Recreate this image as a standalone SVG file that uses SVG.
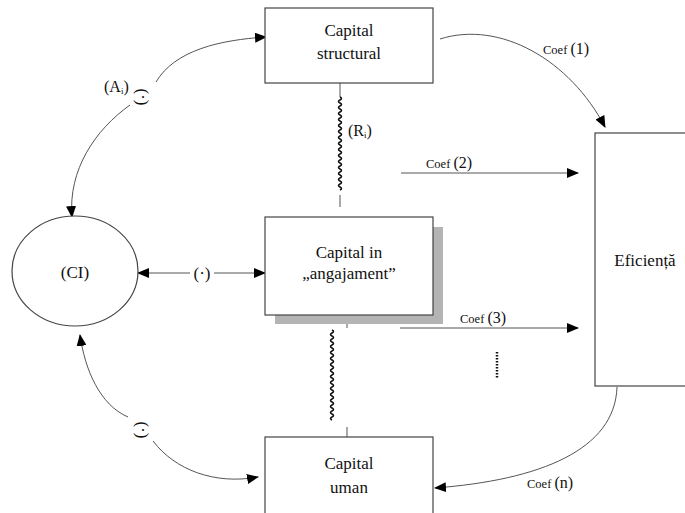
<svg xmlns="http://www.w3.org/2000/svg" width="685" height="513" viewBox="0 0 685 513">
<style>
.box{fill:#fff;stroke:#444;stroke-width:1.2}
.t{font-family:"Liberation Serif","Times New Roman",serif;font-size:17px;fill:#111;text-anchor:middle}
.s{font-family:"Liberation Serif","Times New Roman",serif;font-size:12.5px;fill:#111}
.big{font-size:16px}
.ln{fill:none;stroke:#555;stroke-width:1}
.wv{fill:none;stroke:#111;stroke-width:1.5}
</style>
<defs>
<marker id="ah" viewBox="0 0 12 10" refX="11" refY="5" markerWidth="12" markerHeight="10" markerUnits="userSpaceOnUse" orient="auto-start-reverse">
<path d="M0,0 L12,5 L0,10 Z" fill="#000"/>
</marker>
</defs>
<rect width="685" height="513" fill="#fff"/>

<g id="connectors">
<path class="ln" d="M156,82 C175,50 220,40 266,37" marker-end="url(#ah)"/>
<path class="ln" d="M130,105 C95,130 68,170 72,217" marker-end="url(#ah)"/>
<path class="ln" d="M128,417 C100,405 85,370 80,335" marker-end="url(#ah)"/>
<path class="ln" d="M153,441 C175,470 215,485 258,477" marker-end="url(#ah)"/>
<path class="ln" d="M138,273 L190,273" marker-start="url(#ah)"/>
<path class="ln" d="M214,273 L265,273" marker-end="url(#ah)"/>
<path class="ln" d="M440,39 C500,20 570,60 605,127" marker-end="url(#ah)"/>
<path class="ln" d="M401,173 L578,173" marker-end="url(#ah)"/>
<path class="ln" d="M400,328 L578,328" marker-end="url(#ah)"/>
<path class="ln" d="M617,387 C615,450 540,480 435,488" marker-end="url(#ah)"/>
<line x1="497" y1="352" x2="497" y2="378" stroke="#111" stroke-width="2.5" stroke-dasharray="1.5,1.5"/>
<line class="ln" x1="340" y1="83" x2="340" y2="97"/>
<path class="wv" d="M340,97 q3,1.5 0,3 t0,3 t0,3 t0,3 t0,3 t0,3 t0,3 t0,3 t0,3 t0,3 t0,3 t0,3 t0,3 t0,3 t0,3 t0,3 t0,3 t0,3 t0,3 t0,3 t0,3 t0,3 t0,3 t0,3 t0,3 t0,3 t0,3 t0,3 t0,3 t0,3 t0,3"/>
<line class="ln" x1="340" y1="195" x2="340" y2="207" stroke="#111"/>
<line class="ln" x1="347" y1="315" x2="347" y2="328"/>
<path class="wv" d="M332,330 q3,1.5 0,3 t0,3 t0,3 t0,3 t0,3 t0,3 t0,3 t0,3 t0,3 t0,3 t0,3 t0,3 t0,3 t0,3 t0,3 t0,3 t0,3 t0,3 t0,3 t0,3 t0,3 t0,3 t0,3 t0,3 t0,3 t0,3 t0,3 t0,3 t0,3 t0,3"/>
<line class="ln" x1="347" y1="427" x2="347" y2="437"/>
</g>

<g id="labels">
<text class="s" x="104" y="92"><tspan class="big">(A</tspan><tspan font-size="9" dy="2">i</tspan><tspan class="big" dy="-2">)</tspan></text>
<text class="t" x="0" y="0" transform="translate(142,97) rotate(90)" dy="5">(·)</text>
<text class="t" x="0" y="0" transform="translate(142,430) rotate(90)" dy="5">(·)</text>
<text class="t" x="202" y="279">(·)</text>
<text class="s" x="348" y="136"><tspan class="big">(R</tspan><tspan font-size="9" dy="2">i</tspan><tspan class="big" dy="-2">)</tspan></text>
<text class="s" x="543" y="54">Coef <tspan class="big">(1)</tspan></text>
<text class="s" x="426" y="168">Coef <tspan class="big">(2)</tspan></text>
<text class="s" x="460" y="323">Coef <tspan class="big">(3)</tspan></text>
<text class="s" x="527" y="488">Coef <tspan class="big">(n)</tspan></text>
</g>

<g id="node-ci">
<ellipse cx="75" cy="271" rx="63" ry="55" fill="#fff" stroke="#444" stroke-width="1.2"/>
<text class="t" x="75" y="278">(CI)</text>
</g>

<g id="node-structural">
<rect class="box" x="265" y="8" width="168" height="75"/>
<text class="t" x="349" y="36">Capital</text>
<text class="t" x="349" y="59">structural</text>
</g>

<g id="node-angajament">
<rect x="275" y="227" width="168" height="97" fill="#b4b4b4"/>
<rect class="box" x="265" y="217" width="168" height="98"/>
<text class="t" x="349" y="258">Capital  in</text>
<text class="t" x="349" y="279">„angajament”</text>
</g>

<g id="node-uman">
<rect class="box" x="265" y="437" width="168" height="90"/>
<text class="t" x="349" y="469">Capital</text>
<text class="t" x="349" y="493">uman</text>
</g>

<g id="node-eficienta">
<rect class="box" x="595" y="133" width="100" height="253"/>
<text class="t" x="645" y="266">Eficiență</text>
</g>
</svg>
